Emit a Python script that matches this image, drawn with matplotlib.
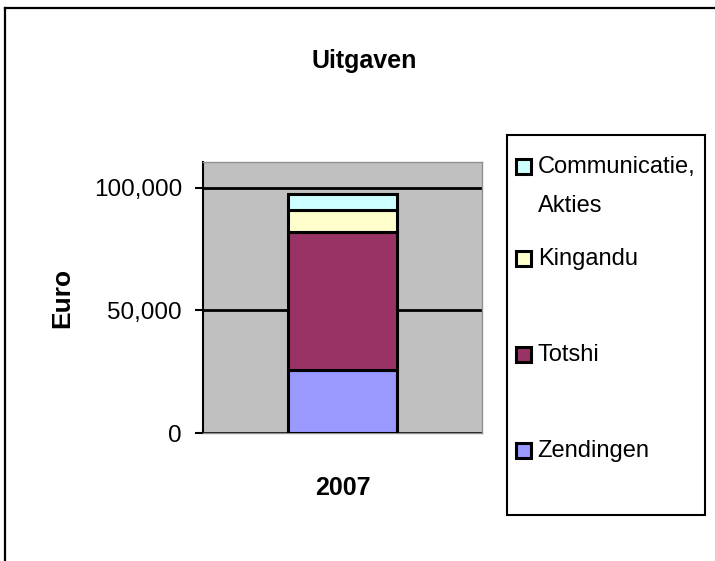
import matplotlib
matplotlib.use("Agg")
import matplotlib.pyplot as plt
from matplotlib.lines import Line2D

plt.rcParams['font.family'] = ['Liberation Sans', 'DejaVu Sans']

categories = ["2007"]
series_names = ["Zendingen", "Totshi", "Kingandu", "Communicatie,\nAkties"]
series_values = {
    "Zendingen": [25800],
    "Totshi": [56000],
    "Kingandu": [9300],
    "Communicatie,\nAkties": [6500],
}
colors = ["#9999FF", "#993366", "#FFFFCC", "#CCFFFF"]
yticks = [0, 50000, 100000]
yticklabels = ["0", "50,000", "100,000"]

W, H = 715, 561
fig = plt.figure(figsize=(W/100, H/100), dpi=100)
ax = fig.add_axes([203/W, 1-433/H, 279/W, 271/H])
ax.set_facecolor("#C0C0C0")

bottom = [0]*len(categories)
handles = []
for name, c in zip(series_names, colors):
    vals = series_values[name]
    b = ax.bar(range(len(categories)), vals, bottom=bottom, width=0.39,
               color=c, edgecolor="black", linewidth=2.2, label=name, zorder=3)
    handles.append(b)
    bottom = [bb+v for bb, v in zip(bottom, vals)]

ax.set_xlim(-0.5, 0.5)
ax.set_ylim(0, 110500)
ax.set_yticks(yticks)
ax.set_yticklabels(yticklabels, fontsize=17.5)
ax.set_xticks(range(len(categories)))
ax.set_xticklabels(categories, fontsize=18, fontweight="bold")
ax.tick_params(axis="x", length=0, pad=31)
ax.tick_params(axis="y", length=5.8, width=1.5, direction="out", pad=9.4)
ax.yaxis.grid(True, color="black", linewidth=2, zorder=1)
ax.set_axisbelow(True)
for s in ["top", "right", "bottom"]:
    ax.spines[s].set_color("#909090")
    ax.spines[s].set_linewidth(1)
ax.spines["left"].set_color("black")
ax.spines["left"].set_linewidth(1.5)

ax.set_ylabel("Euro", fontsize=19, fontweight="bold")
ax.yaxis.set_label_coords((74-203)/279, 0.5)
fig.text(364/W, 1-61/H, "Uitgaven", ha="center", va="center",
         fontsize=18, fontweight="bold")

fs = 17
leg = fig.legend(handles[::-1], series_names[::-1], loc="upper left",
                 bbox_to_anchor=(507/W, 1-135/H), borderaxespad=0,
                 fontsize=fs, frameon=True, fancybox=False, shadow=False,
                 edgecolor="black", handlelength=0.6, handleheight=0.6,
                 handletextpad=0.3, labelspacing=0.2, borderpad=0.4,
                 framealpha=1)
leg.get_frame().set_linewidth(1.5)
for t in leg.get_texts():
    t.set_multialignment("left")
    t.set_linespacing(2.0)

# --- reproduce the reference's uneven legend entry layout ---
dpicor = fig.dpi / 72.0
column = leg._legend_handle_box.get_children()[0]
items = column.get_children()
das = [it.get_children()[0] for it in items]
das[0].height = 60.0
for d in das[1:]:
    d.height = 20.0
targets = [167, 259, 355, 451]   # text centers (first line for entry 0), px from top
box_bottom = 515
texts = leg.get_texts()
for _ in range(4):
    fig.canvas.draw()
    r = fig.canvas.get_renderer()
    lh = texts[1].get_window_extent(r).height
    bb0 = texts[0].get_window_extent(r)
    cur = [H - bb0.y1 + lh/2]
    for t in texts[1:]:
        bb = t.get_window_extent(r)
        cur.append(H - (bb.y0 + bb.y1)/2)
    errs = [tg - c for tg, c in zip(targets, cur)]
    prev = 0.0
    for i, e in enumerate(errs):
        das[i].height += (e - prev) / dpicor
        prev = e
    lb = leg.get_window_extent(r)
    eb = box_bottom - (H - lb.y0) - errs[-1]
    das[-1].ydescent += eb / dpicor
    das[-1].height += eb / dpicor
# handles: centre each on its (first) text line
fig.canvas.draw()
r = fig.canvas.get_renderer()
lh = texts[1].get_window_extent(r).height
for i, (h, t) in enumerate(zip(leg.legend_handles, texts)):
    tb = t.get_window_extent(r)
    tc = tb.y1 - lh/2 + 0.5
    hb = h.get_window_extent(r)
    hc = (hb.y0 + hb.y1)/2
    h.set_y(h.get_y() + (tc - hc)/dpicor)

# figure border (top & left)
fig.add_artist(Line2D([5/W, 5/W], [0, 1-8/H], transform=fig.transFigure,
                      color="black", linewidth=1.6))
fig.add_artist(Line2D([5/W, 1], [1-8/H, 1-8/H], transform=fig.transFigure,
                      color="black", linewidth=1.6))

fig.savefig("out.png", dpi=100)
